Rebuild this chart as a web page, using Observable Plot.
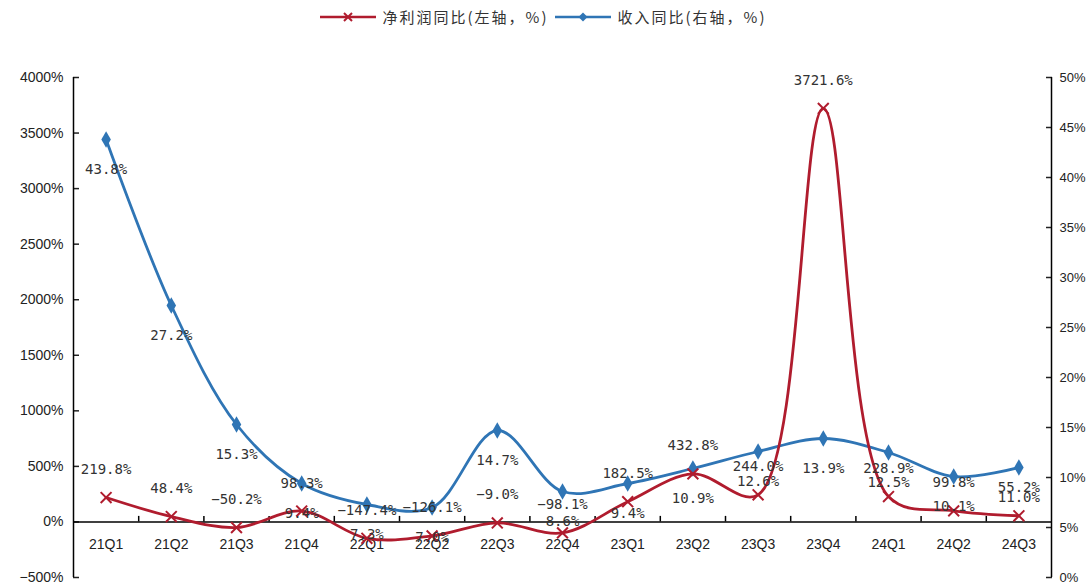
<!DOCTYPE html>
<html><head><meta charset="utf-8">
<script src="https://cdn.jsdelivr.net/npm/d3@7"></script>
<script src="https://cdn.jsdelivr.net/npm/@observablehq/plot@0.6"></script>
<style>
body{margin:0;background:#fff;}
#legend{height:40px;box-sizing:border-box;padding-top:8px;display:flex;justify-content:center;align-items:flex-start;font-family:"Noto Sans CJK SC",sans-serif;font-size:15px;letter-spacing:2px;line-height:18px;color:#333;}
#legend .item{display:flex;align-items:center;margin:0 3px;}
#legend svg{margin-right:7px;}
</style></head><body>
<div id="legend"></div>
<div id="chart"></div>
<script>
const quarters = ["21Q1","21Q2","21Q3","21Q4","22Q1","22Q2","22Q3","22Q4","23Q1","23Q2","23Q3","23Q4","24Q1","24Q2","24Q3"];
const profitYoY = [219.8, 48.4, -50.2, 98.3, -147.4, -126.1, -9.0, -98.1, 182.5, 432.8, 244.0, 3721.6, 228.9, 99.8, 55.2];
const revenueYoY = [43.8, 27.2, 15.3, 9.4, 7.3, 7.0, 14.7, 8.6, 9.4, 10.9, 12.6, 13.9, 12.5, 10.1, 11.0];
const leftTicks = [-500, 0, 500, 1000, 1500, 2000, 2500, 3000, 3500, 4000];
const rightTicks = [0, 5, 10, 15, 20, 25, 30, 35, 40, 45, 50];
const seriesNames = ["净利润同比(左轴，%)", "收入同比(右轴，%)"];

const RED = "#b01c2e", BLUE = "#2f75b5";
const leftDomain = [-500, 4000], rightDomain = [0, 50];
const toLeft = v => leftDomain[0] + (v - rightDomain[0]) / (rightDomain[1] - rightDomain[0]) * (leftDomain[1] - leftDomain[0]);
const fromLeft = d => rightDomain[0] + (d - leftDomain[0]) / (leftDomain[1] - leftDomain[0]) * (rightDomain[1] - rightDomain[0]);
const fmt = d3.format(".1f");
const pct = d => `${d < 0 ? "−" : ""}${Math.abs(d)}%`;

const profitData = quarters.map((q, i) => ({i, q, v: profitYoY[i]}));
const revData = quarters.map((q, i) => ({i, q, v: revenueYoY[i], y: toLeft(revenueYoY[i])}));
const bounds = quarters.slice(1).map((q, i) => i + 0.5);

// legend
const legend = document.getElementById("legend");
[[seriesNames[0], RED, "times"], [seriesNames[1], BLUE, "diamond"]].forEach(([name, color, sym]) => {
  const item = document.createElement("div");
  item.className = "item";
  const marker = sym === "times"
    ? `<path d="M24,1 L32,9 M32,1 L24,9" stroke="${color}" stroke-width="2" fill="none"/>`
    : `<path d="M28,0.5 L32.5,5 L28,9.5 L23.5,5 Z" fill="${color}"/>`;
  item.innerHTML = `<svg width="56" height="10"><line x1="0" y1="5" x2="56" y2="5" stroke="${color}" stroke-width="2.5"/>${marker}</svg><span>${name}</span>`;
  legend.appendChild(item);
});

const chart = Plot.plot({
  width: 1086, height: 544,
  marginLeft: 73, marginRight: 35, marginTop: 37, marginBottom: 7,
  x: {type: "linear", domain: [-0.5, quarters.length - 0.5], axis: null},
  y: {domain: leftDomain, axis: null},
  style: {fontFamily: "'Liberation Sans', Arial, sans-serif", fontSize: "14px", color: "#222", background: "#fff"},
  marks: [
    Plot.axisY({anchor: "left", ticks: leftTicks, tickFormat: pct, tickSize: -6, tickPadding: 16, label: null, strokeWidth: 1.5}),
    Plot.axisY({anchor: "right", ticks: rightTicks.map(toLeft), tickFormat: d => pct(Math.round(fromLeft(d))), tickSize: -6, tickPadding: 14, label: null, strokeWidth: 1.5, fontSize: 13}),
    Plot.ruleX([-0.5, quarters.length - 0.5], {stroke: "#000", strokeWidth: 1.5}),
    Plot.ruleY([0], {x1: -0.5, x2: quarters.length - 0.5, stroke: "#000", strokeWidth: 1.5}),
    Plot.ruleX(bounds, {x: d => d, y1: 0, y2: 50, stroke: "#000", strokeWidth: 1.5}),
    Plot.text(quarters, {x: (d, i) => i, y: 0, text: d => d, dy: 23, fill: "#222"}),
    Plot.line(revData, {x: "i", y: "y", curve: "catmull-rom", stroke: BLUE, strokeWidth: 2.8}),
    Plot.dot(revData, {x: "i", y: "y", symbol: "diamond", fill: BLUE, r: 5}),
    Plot.line(profitData, {x: "i", y: "v", curve: "catmull-rom", stroke: RED, strokeWidth: 2.8}),
    Plot.dot(profitData, {x: "i", y: "v", symbol: "times", stroke: RED, strokeWidth: 2, r: 5}),
    Plot.text(revData, {x: "i", y: "y", text: d => fmt(d.v) + "%", dy: 30, fontFamily: "'DejaVu Sans Mono', monospace", fontSize: 14, fill: "#333"}),
    Plot.text(profitData, {x: "i", y: "v", text: d => fmt(d.v) + "%", dy: -28, fontFamily: "'DejaVu Sans Mono', monospace", fontSize: 14, fill: "#333"})
  ]
});
document.getElementById("chart").appendChild(chart);
</script>
</body></html>
